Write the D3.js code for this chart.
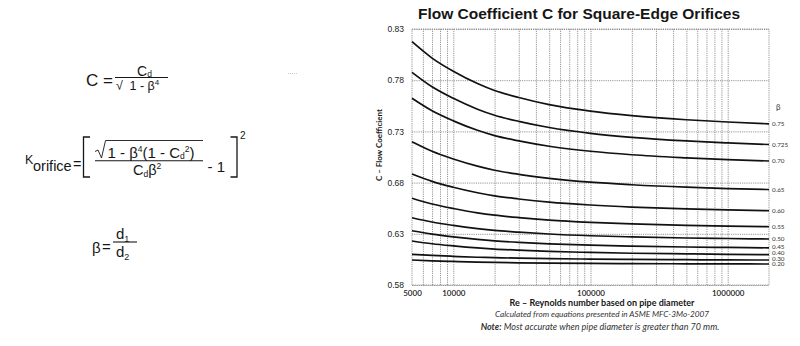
<!DOCTYPE html>
<html>
<head>
<meta charset="utf-8">
<script src="https://cdn.jsdelivr.net/npm/d3@7"></script>
<style>
  html, body { margin: 0; padding: 0; background: #fff; }
  svg { display: block; }
</style>
</head>
<body>
<svg id="chart" width="800" height="346"></svg>
<script>
// ---------------- data ----------------
const reynolds = [5000, 7000, 10000, 15000, 20000, 30000, 50000, 100000, 200000, 500000, 1000000, 2000000];
const betaLabels = ["0.75", "0.725", "0.70", "0.65", "0.60", "0.55", "0.50", "0.45", "0.40", "0.30", "0.20"];
const c_075  = [0.8176, 0.8016, 0.7887, 0.7767, 0.7699, 0.7631, 0.7562, 0.7498, 0.7454, 0.7414, 0.7392, 0.7374];
const c_0725 = [0.7877, 0.7736, 0.7623, 0.7517, 0.7458, 0.7398, 0.7338, 0.7281, 0.7242, 0.7207, 0.7188, 0.7172];
const c_070  = [0.7623, 0.7501, 0.7403, 0.7311, 0.7259, 0.7207, 0.7155, 0.7106, 0.7072, 0.7042, 0.7024, 0.7011];
const c_065  = [0.7199, 0.7106, 0.7031, 0.6961, 0.6921, 0.6881, 0.6842, 0.6804, 0.6779, 0.6755, 0.6742, 0.6732];
const c_060  = [0.6884, 0.6812, 0.6755, 0.6701, 0.6670, 0.6640, 0.6609, 0.6581, 0.6561, 0.6543, 0.6533, 0.6525];
const c_055  = [0.6647, 0.6591, 0.6547, 0.6505, 0.6482, 0.6458, 0.6434, 0.6412, 0.6397, 0.6383, 0.6375, 0.6369];
const c_050  = [0.6457, 0.6415, 0.6382, 0.6351, 0.6333, 0.6316, 0.6298, 0.6281, 0.6270, 0.6259, 0.6254, 0.6249];
const c_045  = [0.6330, 0.6297, 0.6270, 0.6245, 0.6231, 0.6216, 0.6202, 0.6189, 0.6180, 0.6171, 0.6167, 0.6163];
const c_040  = [0.6230, 0.6203, 0.6182, 0.6162, 0.6151, 0.6140, 0.6128, 0.6118, 0.6110, 0.6104, 0.6100, 0.6097];
const c_030  = [0.6100, 0.6089, 0.6080, 0.6071, 0.6067, 0.6062, 0.6057, 0.6053, 0.6050, 0.6047, 0.6045, 0.6044];
const c_020  = [0.6044, 0.6036, 0.6030, 0.6024, 0.6021, 0.6017, 0.6014, 0.6011, 0.6009, 0.6007, 0.6006, 0.6005];
const seriesValues = [c_075, c_0725, c_070, c_065, c_060, c_055, c_050, c_045, c_040, c_030, c_020];

const yTicks = [0.58, 0.63, 0.68, 0.73, 0.78, 0.83];
const xLabelTicks = [5000, 10000, 100000, 1000000];
const xGridTicks = [6000, 7000, 8000, 9000, 10000, 20000, 30000, 40000, 50000, 60000, 70000, 80000, 90000,
                    100000, 200000, 300000, 400000, 500000, 600000, 700000, 800000, 900000, 1000000];

// ---------------- drawing ----------------
const svg = d3.select("#chart");
const ink = "#161616";
const sans = "'Liberation Sans', Arial, sans-serif";

// helper: text made of runs {t, size, dy}
function runs(g, xPos, yPos, parts) {
  const t = g.append("text").attr("x", xPos).attr("y", yPos);
  parts.forEach(p => {
    const s = t.append("tspan").attr("font-size", p.size).text(p.t);
    if (p.dy) s.attr("dy", p.dy);
  });
  return t;
}

// ----- formulas (left) -----
const F = svg.append("g").attr("font-family", sans).attr("fill", ink);

// C = Cd / sqrt(1 - b^4)
F.append("text").attr("x", 86).attr("y", 86).attr("font-size", 17).text("C =");
runs(F, 137, 75.5, [{t: "C", size: 14}, {t: "d", size: 8.5, dy: 1.5}]);
F.append("line").attr("x1", 115).attr("x2", 168).attr("y1", 77.5).attr("y2", 77.5).attr("stroke", ink).attr("stroke-width", 1.1);
F.append("text").attr("x", 116).attr("y", 90).attr("font-size", 12.5).text("√");
runs(F, 129.5, 89.5, [{t: "1 - β", size: 12.5}, {t: "4", size: 8, dy: -5}]);

// K orifice
F.append("text").attr("x", 25).attr("y", 163.5).attr("font-size", 12.5).text("K");
F.append("text").attr("x", 33).attr("y", 170.5).attr("font-size", 14.5).text("orifice");
F.append("text").attr("x", 73).attr("y", 168.5).attr("font-size", 14.5).text("=");
F.append("path").attr("d", "M90,137 H83.5 V177 H90").attr("fill", "none").attr("stroke", ink).attr("stroke-width", 1.3);
F.append("path").attr("d", "M230.5,137 H237 V177 H230.5").attr("fill", "none").attr("stroke", ink).attr("stroke-width", 1.3);
F.append("text").attr("x", 240).attr("y", 139).attr("font-size", 10).text("2");
F.append("path").attr("d", "M95,151.5 L98,150 L101.5,158 L105.5,140.5 H203").attr("fill", "none").attr("stroke", ink).attr("stroke-width", 0.9);
runs(F, 107.5, 157.5, [
  {t: "1 - β", size: 15},
  {t: "4", size: 8.5, dy: -5.5},
  {t: "(1 - C", size: 15, dy: 5.5},
  {t: "d", size: 8.5, dy: 1.5},
  {t: "2", size: 8.5, dy: -7},
  {t: ")", size: 15, dy: 5.5}
]);
F.append("line").attr("x1", 95).attr("x2", 203).attr("y1", 160.8).attr("y2", 160.8).attr("stroke", ink).attr("stroke-width", 1.1);
runs(F, 133, 174.5, [
  {t: "C", size: 14.5},
  {t: "d", size: 8.5, dy: 2},
  {t: "β", size: 14.5, dy: -2},
  {t: "2", size: 8.5, dy: -5.5}
]);
F.append("text").attr("x", 207.5).attr("y", 172).attr("font-size", 15).text("- 1");

// beta = d1/d2
F.append("text").attr("x", 92).attr("y", 253).attr("font-size", 15).text("β");
F.append("text").attr("x", 102).attr("y", 252).attr("font-size", 15).text("=");
runs(F, 116, 239.3, [{t: "d", size: 15}, {t: "1", size: 9, dy: 2.5}]);
F.append("line").attr("x1", 113).attr("x2", 137).attr("y1", 242).attr("y2", 242).attr("stroke", ink).attr("stroke-width", 1.1);
runs(F, 116, 257.3, [{t: "d", size: 15}, {t: "2", size: 9, dy: 2.5}]);

// small scan mark
F.append("line").attr("x1", 288).attr("x2", 297).attr("y1", 73.5).attr("y2", 73.5).attr("stroke", "#bbb").attr("stroke-width", 0.8).attr("stroke-dasharray", "1,1");

// ----- chart (right) -----
const x = d3.scaleLog().domain([5000, 2000000]).range([412, 769]);
const y = d3.scaleLinear().domain([0.58, 0.83]).range([285, 29]);

const gridColor = "#8a8a8a";
svg.append("g")
  .attr("transform", `translate(0,${y.range()[0]})`)
  .call(d3.axisBottom(x).tickValues(xGridTicks).tickSize(-(y.range()[0] - y.range()[1])).tickFormat(""))
  .call(g => g.select(".domain").remove())
  .call(g => g.selectAll(".tick line").attr("stroke", gridColor).attr("stroke-width", 0.9).attr("stroke-dasharray", "1.2,1"));
svg.append("g")
  .attr("transform", `translate(${x.range()[0]},0)`)
  .call(d3.axisLeft(y).tickValues(yTicks).tickSize(-(x.range()[1] - x.range()[0])).tickFormat(""))
  .call(g => g.select(".domain").remove())
  .call(g => g.selectAll(".tick line").attr("stroke", gridColor).attr("stroke-width", 0.9).attr("stroke-dasharray", "1.2,1"));
svg.append("rect")
  .attr("x", x.range()[0]).attr("y", y.range()[1])
  .attr("width", x.range()[1] - x.range()[0]).attr("height", y.range()[0] - y.range()[1])
  .attr("fill", "none").attr("stroke", gridColor).attr("stroke-width", 0.9).attr("stroke-dasharray", "1.2,1");

// y tick labels
svg.append("g")
  .attr("transform", `translate(${x.range()[0]},0)`)
  .call(d3.axisLeft(y).tickValues(yTicks).tickSize(0).tickPadding(8).tickFormat(d3.format(".2f")))
  .call(g => g.select(".domain").remove())
  .call(g => g.selectAll("text").attr("font-family", sans).attr("font-size", 8.5).attr("fill", "#222"));

// x tick labels
svg.append("g")
  .attr("transform", `translate(0,${y.range()[0]})`)
  .call(d3.axisBottom(x).tickValues(xLabelTicks).tickSize(0).tickPadding(5).tickFormat(d3.format("d")))
  .call(g => g.select(".domain").remove())
  .call(g => g.selectAll("text").attr("font-family", "Lato, 'Open Sans', sans-serif").attr("font-size", 8).attr("font-weight", 600).attr("fill", "#222"));

// curves
const line = d3.line()
  .x((d, i) => x(reynolds[i]))
  .y(d => y(d))
  .curve(d3.curveMonotoneX);

svg.append("g").selectAll("path")
  .data(seriesValues)
  .join("path")
  .attr("d", d => line(d))
  .attr("fill", "none")
  .attr("stroke", "#111")
  .attr("stroke-width", 1.7);

// right labels (stacked from the bottom so they don't sit on top of each other)
const labelY = seriesValues.map(s => y(s[s.length - 1]));
for (let i = labelY.length - 2; i >= 0; i--) {
  if (labelY[i] > labelY[i + 1] - 5.6) labelY[i] = labelY[i + 1] - 5.6;
}
svg.append("text").attr("x", 776).attr("y", 110).attr("font-family", "Lato, sans-serif").attr("font-size", 8).attr("fill", "#333").text("β");
svg.append("g").selectAll("text")
  .data(seriesValues)
  .join("text")
  .attr("x", x.range()[1] + 3)
  .attr("y", (d, i) => labelY[i])
  .attr("dy", "0.35em")
  .attr("font-family", "Lato, sans-serif")
  .attr("font-size", 6.3)
  .attr("fill", "#333")
  .text((d, i) => betaLabels[i]);

// titles
svg.append("text").attr("x", 579).attr("y", 18.5).attr("text-anchor", "middle")
  .attr("font-family", sans).attr("font-weight", "bold").attr("font-size", 15.5).attr("fill", ink)
  .text("Flow Coefficient C for Square-Edge Orifices");

svg.append("text").attr("transform", "translate(382,145) rotate(-90)").attr("text-anchor", "middle")
  .attr("font-family", "Lato, sans-serif").attr("font-weight", "bold").attr("font-size", 8).attr("fill", ink)
  .text("C – Flow Coefficient");

svg.append("text").attr("x", 602).attr("y", 305.5).attr("text-anchor", "middle")
  .attr("font-family", "Lato, sans-serif").attr("font-weight", "bold").attr("font-size", 9).attr("fill", ink)
  .text("Re – Reynolds number based on pipe diameter");

svg.append("text").attr("x", 602).attr("y", 317).attr("text-anchor", "middle")
  .attr("font-family", "Lato, sans-serif").attr("font-style", "italic").attr("font-size", 8.2).attr("fill", "#333")
  .text("Calculated from equations presented in ASME MFC-3Mo-2007");

const note = svg.append("text").attr("x", 600).attr("y", 329.5).attr("text-anchor", "middle")
  .attr("font-family", "Lato, sans-serif").attr("font-style", "italic").attr("font-size", 9).attr("fill", "#333");
note.append("tspan").attr("font-weight", "bold").text("Note:");
note.append("tspan").text(" Most accurate when pipe diameter is greater than 70 mm.");
</script>
</body>
</html>
